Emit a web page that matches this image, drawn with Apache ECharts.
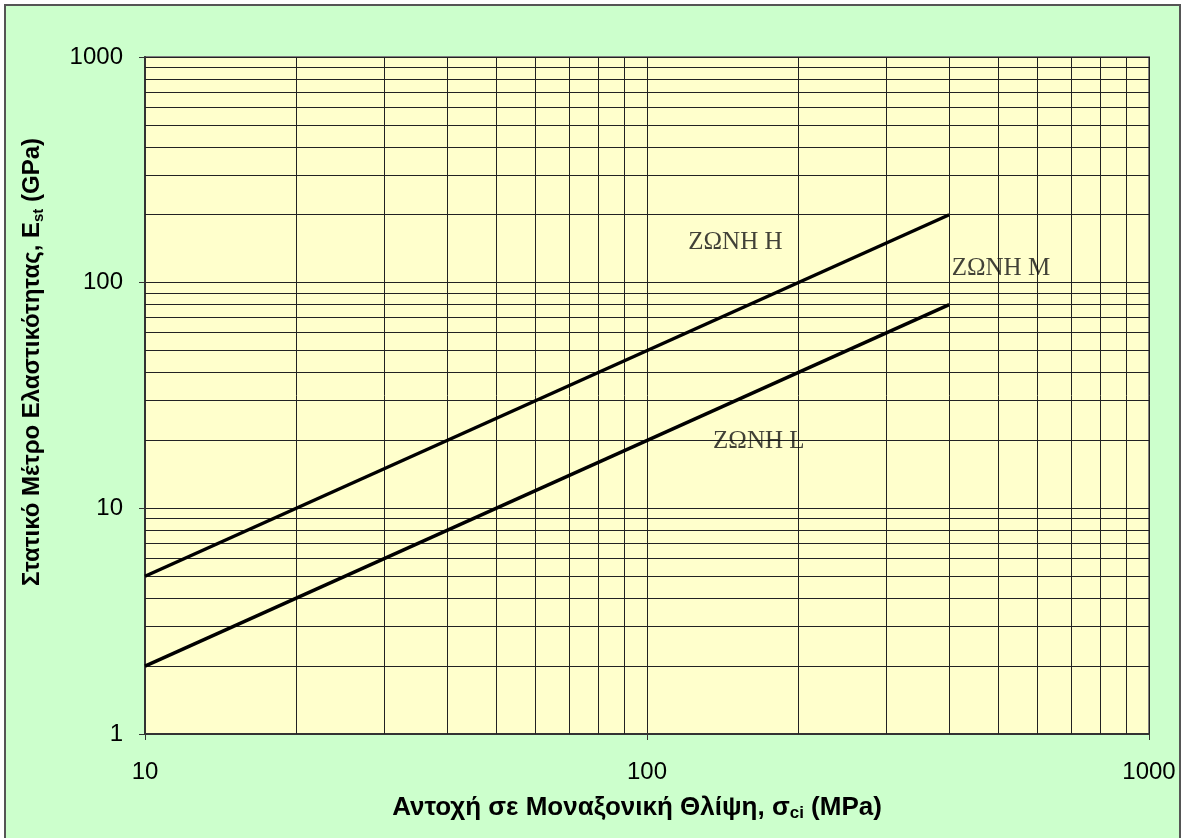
<!DOCTYPE html>
<html>
<head>
<meta charset="utf-8">
<script src="https://cdn.jsdelivr.net/npm/echarts@6/dist/echarts.min.js"></script>
<style>
  html, body { margin: 0; padding: 0; background: #ffffff; }
  #chart { width: 1184px; height: 838px; }
</style>
</head>
<body>
<div id="chart"></div>
<script>
// Uniaxial compressive strength (MPa) at the ends of each zone boundary
const sigmaCi = [10, 400];
// Static modulus of elasticity (GPa) for each zone boundary
const zoneHigh = [5, 200];
const zoneLow = [2, 80];
// Zone names
const zoneNames = ['ΖΩΝΗ Η', 'ΖΩΝΗ Μ', 'ΖΩΝΗ L'];
// Log grid: intermediate lines inside each decade
const xMinorLines = [20, 30, 40, 50, 60, 70, 80, 90, 200, 300, 400, 500, 600, 700, 800, 900];
const yMinorLines = [2, 3, 4, 5, 6, 7, 8, 9, 20, 30, 40, 50, 60, 70, 80, 90, 200, 300, 400, 500, 600, 700, 800, 900];

const GRID_COLOR = '#222222';
const SANS = 'Liberation Sans, Arial, sans-serif';

const chart = echarts.init(document.getElementById('chart'), null, { renderer: 'canvas' });

const option = {
  animation: false,
  backgroundColor: '#ffffff',
  graphic: [
    {
      type: 'rect',
      z: -10,
      shape: { x: 5, y: 5, width: 1175, height: 845 },
      style: { fill: '#CCFFCC', stroke: '#555555', lineWidth: 2 },
      silent: true
    },
    {
      type: 'text',
      left: 20,
      top: 138,
      rotation: Math.PI / 2,
      silent: true,
      style: {
        text: '{b|Στατικό Μέτρο Ελαστικότητας, E}{s|st}{b| (GPa)}',
        rich: {
          b: { fontFamily: SANS, fontSize: 24, fontWeight: 'bold', fill: '#000', lineHeight: 28 },
          s: { fontFamily: SANS, fontSize: 15, fontWeight: 'bold', fill: '#000', verticalAlign: 'bottom', lineHeight: 14 }
        }
      }
    }
  ],
  grid: {
    left: 145,
    top: 57,
    right: 35,
    bottom: 104,
    show: true,
    backgroundColor: '#FFFFCC',
    borderColor: '#808080',
    borderWidth: 2
  },
  xAxis: {
    type: 'log',
    logBase: 10,
    min: 10,
    max: 1000,
    nameLocation: 'middle',
    nameGap: 60,
    name: '{b|Αντοχή σε Μοναξονική Θλίψη, σ}{s|ci}{b| (MPa)}',
    nameTextStyle: {
      padding: [0, 20, 0, 0],
      rich: {
        b: { fontFamily: SANS, fontSize: 26, fontWeight: 'bold', color: '#000', lineHeight: 28 },
        s: { fontFamily: SANS, fontSize: 17, fontWeight: 'bold', color: '#000', verticalAlign: 'bottom', lineHeight: 14 }
      }
    },
    axisLine: { show: true, lineStyle: { color: '#333', width: 2 } },
    axisTick: { show: true, length: 6, lineStyle: { color: '#333', width: 1 } },
    axisLabel: { fontFamily: SANS, fontSize: 24, color: '#000', margin: 26, formatter: v => String(v) },
    splitLine: { show: true, lineStyle: { color: GRID_COLOR, width: 1 } },
    minorTick: { show: false },
    minorSplitLine: { show: false }
  },
  yAxis: {
    type: 'log',
    logBase: 10,
    min: 1,
    max: 1000,
    axisLine: { show: true, lineStyle: { color: '#333', width: 2 } },
    axisTick: { show: true, length: 6, lineStyle: { color: '#333', width: 1 } },
    axisLabel: { fontFamily: SANS, fontSize: 24, color: '#000', margin: 22, formatter: v => String(v) },
    splitLine: { show: true, lineStyle: { color: GRID_COLOR, width: 1 } },
    minorTick: { show: false },
    minorSplitLine: { show: false }
  },
  series: [
    {
      // intermediate log grid lines
      type: 'line',
      data: [],
      z: 1,
      silent: true,
      markLine: {
        silent: true,
        symbol: ['none', 'none'],
        label: { show: false },
        lineStyle: { color: GRID_COLOR, width: 1, type: 'solid' },
        emphasis: { disabled: true },
        data: xMinorLines.map(v => ({ xAxis: v })).concat(yMinorLines.map(v => ({ yAxis: v })))
      }
    },
    {
      name: zoneNames[0],
      type: 'line',
      z: 5,
      symbol: 'none',
      lineStyle: { color: '#000', width: 3.5 },
      data: sigmaCi.map((s, i) => [s, zoneHigh[i]])
    },
    {
      name: zoneNames[2],
      type: 'line',
      z: 5,
      symbol: 'none',
      lineStyle: { color: '#000', width: 3.5 },
      data: sigmaCi.map((s, i) => [s, zoneLow[i]])
    },
    {
      // zone captions
      type: 'scatter',
      z: 6,
      symbolSize: 0,
      silent: true,
      label: {
        show: true,
        position: 'inside',
        formatter: p => p.name,
        fontFamily: 'Liberation Serif, Times New Roman, serif',
        fontSize: 25,
        color: '#111111'
      },
      data: [
        { name: zoneNames[0], value: [150, 150] },
        { name: zoneNames[1], value: [507, 116] },
        { name: zoneNames[2], value: [167, 19.7] }
      ]
    }
  ]
};

chart.setOption(option);
</script>
</body>
</html>
